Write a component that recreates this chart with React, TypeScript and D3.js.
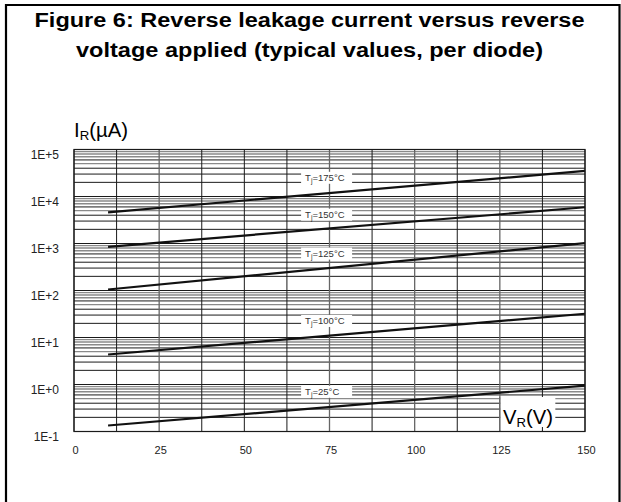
import * as d3 from 'd3';

// Reverse voltage (V) where each curve starts and ends
const VR_POINTS = [10, 150];
// Typical reverse leakage current (µA) at the two voltages above
const IR_175 = [4600, 35000];
const IR_150 = [850, 5900];
const IR_125 = [105, 1020];
const IR_100 = [4.35, 32];
const IR_25 = [0.134, 0.95];

const TJ_VALUES = ['175', '150', '125', '100', '25'];
// where each Tj label sits, in data units
const LABEL_VR = 74;
const LABEL_IR = [25000, 4100, 610, 22.5, 0.7];

const VR_TICKS = [0, 25, 50, 75, 100, 125, 150];
const VR_GRID = d3.range(0, 150.1, 12.5);
const IR_DECADES = [0.1, 1, 10, 100, 1000, 10000, 100000];
const IR_TICK_LABELS = ['1E-1', '1E+0', '1E+1', '1E+2', '1E+3', '1E+4', '1E+5'];
const MINOR_MULT = [2, 3, 4, 5, 6, 7, 8, 9];

const TITLE_LINES = [
  'Figure 6: Reverse leakage current versus reverse',
  'voltage applied (typical values, per diode)',
];

export default function App(): JSX.Element {
  const width = 621;
  const height = 502;
  const margin = { top: 149.5, right: 36, bottom: 70.5, left: 74 };

  const x = d3.scaleLinear()
    .domain([0, 150])
    .range([margin.left, width - margin.right]);

  const y = d3.scaleLog()
    .domain([0.1, 100000])
    .range([height - margin.bottom, margin.top]);

  const line = d3.line<[number, number]>()
    .x(d => x(d[0]))
    .y(d => y(d[1]));

  const series = [IR_175, IR_150, IR_125, IR_100, IR_25];

  // minor gridlines in every decade
  const minor: { v: number; m: number }[] = [];
  IR_DECADES.slice(0, -1).forEach(dec => {
    MINOR_MULT.forEach(m => minor.push({ v: dec * m, m }));
  });

  const font = 'Arial, "Liberation Sans", Helvetica, sans-serif';

  return (
    <svg
      width={width}
      height={height}
      style={{ position: 'absolute', left: 0, top: 0, background: '#fff' }}
      fontFamily={font}
    >
      {/* outer frame */}
      <path
        d={`M6,${height + 2}V5H619.5V${height + 2}`}
        fill="none"
        stroke="black"
        strokeWidth={2.2}
      />

      {/* title */}
      {TITLE_LINES.map((t, i) => (
        <text
          key={i}
          x={width / 2 - 1}
          y={27 + i * 29.5}
          textAnchor="middle"
          fontSize={20}
          fontWeight="bold"
          textLength={i === 0 ? 550 : 467}
          lengthAdjust="spacingAndGlyphs"
        >
          {t}
        </text>
      ))}

      {/* y-axis title */}
      <text x={74} y={137} fontSize={20} textLength={54} lengthAdjust="spacingAndGlyphs">
        I<tspan fontSize={13} dy={3}>R</tspan>
        <tspan dy={-3}>(µA)</tspan>
      </text>

      {/* horizontal minor grid */}
      <g className="y-grid">
        {minor.map(({ v, m }) => (
          <line
            key={v}
            x1={x(0)}
            x2={x(150)}
            y1={y(v)}
            y2={y(v)}
            stroke={m >= 7 || m === 5 ? '#8a8a8a' : '#1a1a1a'}
            strokeWidth={m >= 7 || m === 5 ? 1.4 : 1}
          />
        ))}
        {IR_DECADES.map(v => (
          <line
            key={v}
            x1={x(0)}
            x2={x(150)}
            y1={y(v)}
            y2={y(v)}
            stroke="#1a1a1a"
            strokeWidth={1}
          />
        ))}
      </g>

      {/* vertical grid */}
      <g className="x-grid">
        {VR_GRID.map(v => (
          <line
            key={v}
            x1={x(v)}
            x2={x(v)}
            y1={y(100000)}
            y2={y(0.1)}
            stroke={[25, 75, 100, 125].includes(v) ? '#666' : '#1a1a1a'}
            strokeWidth={[25, 75, 100, 125].includes(v) ? 1.3 : 1}
          />
        ))}
      </g>

      {/* axis tick labels */}
      {IR_DECADES.map((v, i) => (
        <text
          key={v}
          x={59}
          y={y(v) + 9}
          textAnchor="end"
          fontSize={12}
          fill="#222"
        >
          {IR_TICK_LABELS[i]}
        </text>
      ))}
      {VR_TICKS.map(v => (
        <text
          key={v}
          x={x(v) + 1.5}
          y={454}
          textAnchor="middle"
          fontSize={11}
          fill="#222"
        >
          {v}
        </text>
      ))}

      {/* Tj labels with white boxes */}
      {TJ_VALUES.map((t, i) => {
        const cy = y(LABEL_IR[i]);
        const cx = x(LABEL_VR);
        return (
          <g key={t}>
            <rect x={cx - 25} y={cy - 6} width={51} height={12} fill="white" />
            <text x={cx - 21} y={cy + 3.5} fontSize={9.5} fill="#333">
              T<tspan fontSize={7} dy={2}>j</tspan>
              <tspan dy={-2}>={t}°C</tspan>
            </text>
          </g>
        );
      })}

      {/* curves */}
      {series.map((s, i) => (
        <path
          key={i}
          d={line(VR_POINTS.map((v, j) => [v, s[j]] as [number, number])) || ''}
          fill="none"
          stroke="#111"
          strokeWidth={2.2}
        />
      ))}

      {/* x-axis title box */}
      <rect x={x(125) + 0.5} y={397} width={55} height={33.5} fill="white" />
      <line x1={x(137.5)} x2={x(137.5)} y1={427} y2={y(0.1)} stroke="#1a1a1a" />
      <line x1={x(125)} x2={x(125)} y1={397} y2={y(0.1)} stroke="#666" strokeWidth={1.3} />
      <text x={503} y={424} fontSize={20} textLength={50} lengthAdjust="spacingAndGlyphs">
        V<tspan fontSize={13} dy={3}>R</tspan>
        <tspan dy={-3}>(V)</tspan>
      </text>

      {/* plot frame */}
      <rect
        x={x(0)}
        y={y(100000)}
        width={x(150) - x(0)}
        height={y(0.1) - y(100000)}
        fill="none"
        stroke="#1a1a1a"
        strokeWidth={1.2}
      />
    </svg>
  );
}
